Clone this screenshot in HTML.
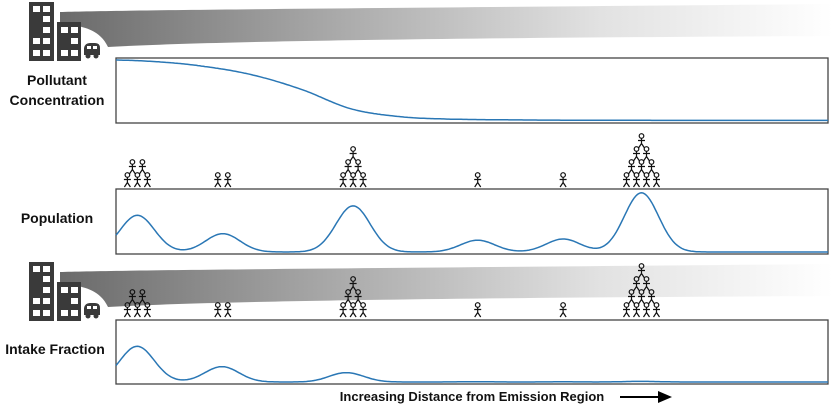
<!DOCTYPE html>
<html><head><meta charset="utf-8"><style>
body{margin:0;background:#fff;width:833px;height:406px;overflow:hidden;font-family:"Liberation Sans",sans-serif}
</style></head><body>
<svg id="s" width="833" height="406" xmlns="http://www.w3.org/2000/svg">
<defs>
<linearGradient id="sg" x1="0" x2="1" y1="0" y2="0">
<stop offset="0" stop-color="#6a6a6a"/><stop offset="0.3" stop-color="#a0a0a0"/><stop offset="0.7" stop-color="#e2e2e2"/><stop offset="1" stop-color="#fff"/></linearGradient>
<g id="bld">
<path d="M60,12 C120,10 400,8 833,4 L833,36 C400,38 200,42 108,47 C100,30 85,28 75,25 L60,25 Z" fill="url(#sg)"/>
<rect x="29" y="2" width="25" height="59" fill="#3a3a3a"/>
<rect x="33" y="6" width="7" height="6" fill="#fff"/><rect x="43" y="6" width="7" height="6" fill="#fff"/>
<rect x="43" y="16" width="7" height="6" fill="#fff"/><rect x="43" y="27" width="7" height="6" fill="#fff"/>
<rect x="33" y="38" width="7" height="6" fill="#fff"/><rect x="43" y="38" width="7" height="6" fill="#fff"/>
<rect x="33" y="50" width="7" height="6" fill="#fff"/><rect x="43" y="50" width="7" height="6" fill="#fff"/>
<rect x="57" y="22" width="24" height="39" fill="#3a3a3a"/>
<rect x="61" y="27" width="7" height="6" fill="#fff"/><rect x="71" y="27" width="7" height="6" fill="#fff"/>
<rect x="71" y="38" width="7" height="6" fill="#fff"/><rect x="61" y="50" width="7" height="6" fill="#fff"/><rect x="71" y="50" width="7" height="6" fill="#fff"/>
<path d="M84,55 L84,48 Q85,43 90,43 L95,43 Q100,43 100,48 L100,55 Z" fill="#3a3a3a"/>
<circle cx="88" cy="56" r="2.5" fill="#3a3a3a"/><circle cx="96" cy="56" r="2.5" fill="#3a3a3a"/>
<rect x="87" y="46" width="4" height="3" fill="#fff"/><rect x="93" y="46" width="4" height="3" fill="#fff"/>
</g>
<g id="man" stroke="#111" stroke-width="1.2" fill="none">
<circle cx="0" cy="-10" r="2.3"/><path d="M0,-7.7 L0,-2.5 M-3.5,-5.5 L3.5,-5.5 M0,-2.5 L-3,2 M0,-2.5 L3,2"/>
</g>
</defs>
<use href="#bld"/>
<use href="#bld" y="260"/>
<g font-weight="bold" font-size="14" fill="#111" text-anchor="middle">
<text x="57" y="85">Pollutant</text>
<text x="57" y="105">Concentration</text>
<text x="57" y="223">Population</text>
<text x="55" y="354">Intake Fraction</text>
<text x="472" y="401" font-size="13">Increasing Distance from Emission Region</text>
</g>
<path d="M620,396 L658,396 L658,391 L672,397 L658,403 L658,398 L620,398 Z" fill="#000"/>
<g id="panels"></g>
</svg>
<script>
const concX=[0,0.06,0.12,0.19,0.26,0.33,0.4,0.47,0.6,0.8,1];
const concV=[1,0.97,0.9,0.76,0.52,0.2,0.07,0.03,0.015,0.01,0.01];
const popCenters=[0.03,0.15,0.333,0.508,0.628,0.738];
const popHeights=[0.62,0.31,0.78,0.2,0.22,1.0];
const popCounts=[[3,2],[2],[3,2,1],[1],[1],[4,3,2,1]];
const W=712,X0=116;
const sx=f=>X0+f*W;
const ns="http://www.w3.org/2000/svg";
const svg=document.getElementById('panels');
function conc(f){
 const n=concX.length;
 for(let i=0;i<n-1;i++){
  if(f<=concX[i+1]){
   const t=(f-concX[i])/(concX[i+1]-concX[i]);
   const p0=concV[Math.max(0,i-1)],p1=concV[i],p2=concV[i+1],p3=concV[Math.min(n-1,i+2)];
   const v=0.5*((2*p1)+(-p0+p2)*t+(2*p0-5*p1+4*p2-p3)*t*t+(-p0+3*p1-3*p2+p3)*t*t*t);
   return Math.max(0,Math.min(1,v));
  }
 }
 return concV[n-1];
}
function pop(f){let v=0;for(let i=0;i<popCenters.length;i++){const d=(f-popCenters[i])/0.024;v+=popHeights[i]*Math.exp(-d*d/2);}return v;}
function panel(y,h,fn,name){
 const r=document.createElementNS(ns,'rect');
 r.setAttribute('x',X0);r.setAttribute('y',y);r.setAttribute('width',W);r.setAttribute('height',h);
 r.setAttribute('fill','#fff');r.setAttribute('stroke','#444');r.setAttribute('stroke-width','1.3');
 
 
 svg.appendChild(r);
 let d='';for(let i=0;i<=400;i++){const f=i/400;const v=fn(f);d+=(i?'L':'M')+sx(f).toFixed(1)+','+(y+h-2-v*(h-4)).toFixed(1);}
 const p=document.createElementNS(ns,'path');
 p.setAttribute('d',d);p.setAttribute('fill','none');p.setAttribute('stroke','#2a77b5');p.setAttribute('stroke-width','1.5');
 
 
 svg.appendChild(p);
}
panel(58,65,conc,'concentration');
panel(189,65,f=>pop(f)*0.97,'population');
panel(320,64,f=>Math.min(1,pop(f)*conc(f)*0.97),'intake-fraction');
function people(baseY,tag){
 popCenters.forEach((c,i)=>{
  popCounts[i].forEach((n,row)=>{
   for(let k=0;k<n;k++){
    const u=document.createElementNS(ns,'use');
    u.setAttribute('href','#man');
    u.setAttribute('x',(sx(c)+(k-(n-1)/2)*10).toFixed(1));
    u.setAttribute('y',baseY-row*13);
    
    
    svg.appendChild(u);
   }
  });
 });
}
people(185,'population');
people(315,'exposed');
</script>
</body></html>
